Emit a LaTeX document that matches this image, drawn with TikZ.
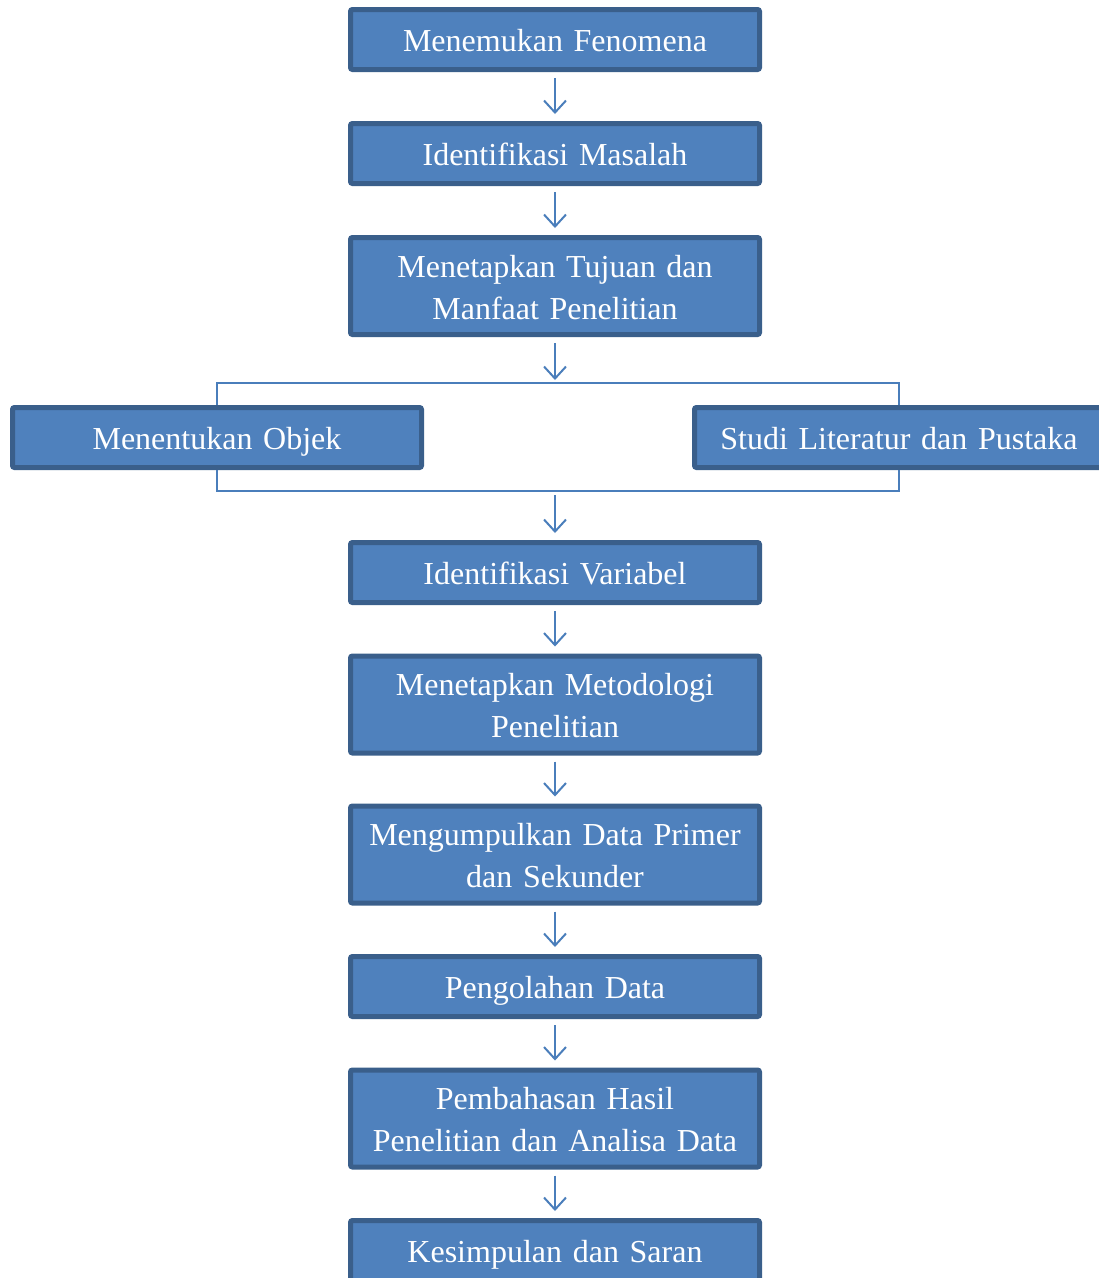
\documentclass[tikz,border=0pt]{standalone}
\usepackage{fontspec}
\setmainfont{Liberation Serif}
\usetikzlibrary{arrows.meta}
\definecolor{boxfill}{HTML}{4F81BD}
\definecolor{boxline}{HTML}{3A5F8B}
\definecolor{linkcol}{HTML}{4A7EBB}
\tikzset{
	box/.style={draw=boxline,fill=boxfill,line width=5pt,rounded corners=2pt,minimum width=409pt,minimum height=60pt,text width=400pt,align=center,text=white,font=\fontsize{32}{42}\selectfont,execute at begin node=\rule{0pt}{32pt},execute at end node=\rule[-8pt]{0pt}{8pt}},
	tallbox/.style={box,minimum height=97pt},
	link/.style={draw=linkcol,line width=2pt},
	arr/.style={link,-{Straight Barb[length=12pt,width=22pt,line width=2pt]}}
}
\begin{document}
\begin{tikzpicture}[x=1pt,y=1pt]
	\useasboundingbox (0,0) rectangle (1099,-1278);
	\path (555,-383) coordinate (tp) (555,-491) coordinate (bt);
	\node[box] (a) at (555,-39.5) {Menemukan Fenomena};
	\node[box] (b) at (555,-153.5) {Identifikasi Masalah};
	\node[tallbox] (c) at (555,-286) {Menetapkan Tujuan dan\\Manfaat Penelitian};
	\node[box] (L) at (217,-437.5) {Menentukan Objek};
	\node[box] (R) at (899,-437.5) {Studi Literatur dan Pustaka};
	\node[box] (d) at (555,-572.5) {Identifikasi Variabel};
	\node[tallbox] (e) at (555,-704.5) {Menetapkan Metodologi\\Penelitian};
	\node[tallbox] (f) at (555,-854.5) {Mengumpulkan Data Primer\\dan Sekunder};
	\node[box] (g) at (555,-986.5) {Pengolahan Data};
	\node[tallbox] (h) at (555,-1118.5) {Pembahasan Hasil\\Penelitian dan Analisa Data};
	\node[box] (i) at (555,-1250.5) {Kesimpulan dan Saran};
	% bracket round the two parallel steps
	\draw[link] (L.north) |- (tp) -| (R.north) (L.south) |- (bt) -| (R.south);
	\draw[arr,shorten <=6pt,shorten >=3pt] (c) -- (tp);
	\draw[arr,shorten <=4pt,shorten >=7pt] (bt) -- (d);
	\foreach \x/\y in {a/b,b/c,d/e,e/f,f/g,g/h,h/i}
	\draw[arr,shorten <=6pt,shorten >=7pt] (\x) -- (\y);
\end{tikzpicture}
\end{document}
